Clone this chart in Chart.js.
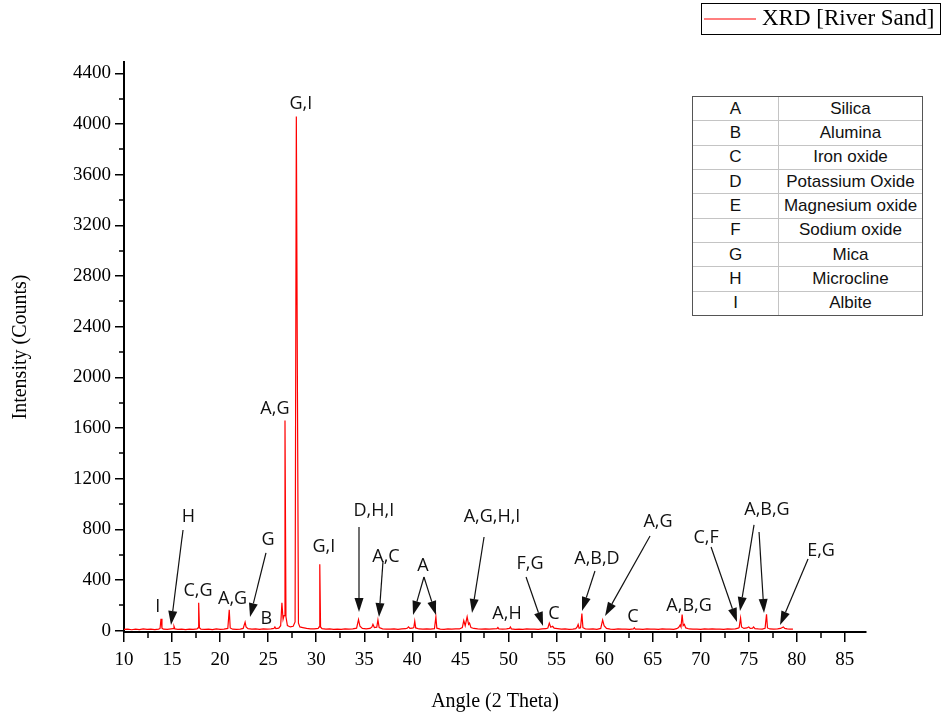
<!DOCTYPE html>
<html>
<head>
<meta charset="utf-8">
<title>XRD River Sand</title>
<script src="https://cdn.jsdelivr.net/npm/chart.js@4.4.1/dist/chart.umd.min.js"></script>
<style>
  html, body { margin: 0; padding: 0; background: #fff; }
  #wrap { position: relative; width: 947px; height: 719px; }
  #xrd { position: absolute; left: 0; top: 0; }
  #phaseBox {
    position: absolute; left: 692px; top: 96px; width: 229px; height: 218px;
    border: 1px solid #555; background: #fff;
  }
  #phaseBox table { width: 100%; height: 100%; border-collapse: collapse; }
  #phaseBox td {
    padding: 0; text-align: center; border: 1px solid #c4c4c4;
    font: 17px "Liberation Sans", Arial, sans-serif; color: #111;
  }
  #phaseBox td:first-child { width: 85px; border-left: none; }
  #phaseBox td:last-child { border-right: none; }
  #phaseBox tr:first-child td { border-top: none; }
  #phaseBox tr:last-child td { border-bottom: none; }
</style>
</head>
<body>
<div id="wrap">
  <canvas id="xrd" width="947" height="719"></canvas>
  <div id="phaseBox"><table id="phases"></table></div>
</div>
<script>
// 2-theta scan of the river sand sample: [angle, counts]
const scan = [
  [10.0, 10], [10.4, 13], [10.8, 8], [11.2, 12], [11.6, 9], [12.0, 14], [12.4, 10], [12.8, 12],
  [13.2, 9], [13.6, 13], [13.75, 18], [13.85, 95], [13.95, 20], [14.1, 12], [14.5, 10], [14.9, 14],
  [15.1, 16], [15.2, 35], [15.3, 14], [15.6, 11], [16.0, 12], [16.4, 9], [16.8, 13], [17.2, 11],
  [17.6, 14], [17.7, 22], [17.77, 220], [17.85, 24], [18.0, 13], [18.4, 10], [18.8, 12], [19.2, 9],
  [19.6, 14], [20.0, 11], [20.4, 13], [20.8, 18], [20.95, 165], [21.05, 22], [21.3, 12], [21.7, 10],
  [22.1, 13], [22.4, 18], [22.6, 68], [22.7, 30], [22.9, 16], [23.3, 12], [23.7, 14], [24.1, 11],
  [24.5, 15], [24.9, 12], [25.3, 14], [25.6, 18], [25.7, 30], [25.8, 16], [26.1, 20], [26.3, 40],
  [26.43, 220], [26.55, 90], [26.65, 120], [26.75, 1660], [26.85, 110], [27.0, 40], [27.3, 30],
  [27.6, 35], [27.8, 70], [27.93, 4060], [28.05, 1820], [28.15, 60], [28.3, 30], [28.6, 25],
  [29.0, 18], [29.4, 15], [29.8, 14], [30.2, 18], [30.3, 30], [30.37, 525], [30.45, 30], [30.6, 16],
  [31.0, 12], [31.4, 14], [31.8, 10], [32.2, 13], [32.6, 11], [33.0, 14], [33.4, 12], [33.8, 15],
  [34.2, 20], [34.4, 88], [34.55, 35], [34.8, 18], [35.2, 14], [35.6, 18], [35.8, 30], [35.9, 50],
  [36.05, 25], [36.3, 28], [36.42, 85], [36.55, 25], [36.9, 15], [37.3, 13], [37.7, 12], [38.1, 14],
  [38.5, 11], [38.9, 14], [39.3, 16], [39.5, 22], [39.6, 30], [39.75, 18], [40.0, 20], [40.15, 25],
  [40.25, 75], [40.35, 22], [40.7, 14], [41.1, 12], [41.5, 15], [41.9, 12], [42.3, 16], [42.45, 110],
  [42.55, 20], [42.9, 13], [43.3, 11], [43.7, 14], [44.1, 12], [44.5, 15], [44.9, 14], [45.2, 25],
  [45.35, 80], [45.5, 40], [45.7, 110], [45.85, 50], [45.95, 60], [46.1, 25], [46.4, 18], [46.8, 14],
  [47.2, 12], [47.6, 15], [48.0, 12], [48.4, 14], [48.8, 16], [48.9, 25], [49.0, 14], [49.4, 12],
  [49.8, 14], [50.1, 18], [50.2, 30], [50.3, 15], [50.7, 11], [51.1, 13], [51.5, 10], [51.9, 14],
  [52.3, 12], [52.7, 13], [53.1, 11], [53.5, 14], [53.9, 16], [54.1, 22], [54.25, 60], [54.4, 28],
  [54.6, 35], [54.75, 20], [55.1, 16], [55.5, 12], [55.9, 14], [56.3, 11], [56.7, 13], [57.0, 16],
  [57.15, 30], [57.25, 50], [57.35, 20], [57.5, 24], [57.64, 135], [57.75, 24], [58.0, 15], [58.4, 12],
  [58.8, 14], [59.2, 11], [59.6, 18], [59.8, 85], [59.95, 40], [60.2, 18], [60.6, 13], [61.0, 11],
  [61.4, 14], [61.8, 12], [62.2, 13], [62.6, 11], [63.0, 14], [63.1, 24], [63.2, 12], [63.6, 13],
  [64.0, 11], [64.4, 14], [64.8, 12], [65.2, 13], [65.6, 10], [66.0, 14], [66.4, 12], [66.8, 13],
  [67.2, 11], [67.5, 16], [67.7, 25], [67.86, 45], [67.95, 30], [68.07, 128], [68.18, 40], [68.3, 50],
  [68.45, 22], [68.8, 14], [69.2, 12], [69.6, 13], [70.0, 11], [70.4, 14], [70.8, 12], [71.2, 15],
  [71.6, 12], [72.0, 13], [72.4, 11], [72.8, 14], [73.2, 12], [73.6, 15], [73.9, 20], [74.0, 25],
  [74.15, 100], [74.25, 30], [74.5, 18], [74.8, 22], [75.0, 30], [75.15, 18], [75.4, 20], [75.5, 30],
  [75.65, 16], [76.0, 14], [76.4, 13], [76.7, 20], [76.85, 130], [76.95, 22], [77.2, 14], [77.6, 12],
  [78.0, 15], [78.3, 18], [78.6, 30], [78.75, 18], [79.0, 14], [79.3, 12], [79.6, 13]
];

const xTicks = [10, 15, 20, 25, 30, 35, 40, 45, 50, 55, 60, 65, 70, 75, 80, 85];
const yTicks = [0, 400, 800, 1200, 1600, 2000, 2400, 2800, 3200, 3600, 4000, 4400];

const phaseCodes = ['A', 'B', 'C', 'D', 'E', 'F', 'G', 'H', 'I'];
const phaseNames = ['Silica', 'Alumina', 'Iron oxide', 'Potassium Oxide', 'Magnesium oxide',
  'Sodium oxide', 'Mica', 'Microcline', 'Albite'];

// peak labels: text centre and arrows [fromX, fromY, toX, toY], all in data units
const peakLabels = [
  { text: 'I', at: [13.5, 195], arrows: [] },
  { text: 'H', at: [16.7, 905], arrows: [[16.14, 795, 14.89, 45]] },
  { text: 'C,G', at: [17.7, 320], arrows: [] },
  { text: 'A,G', at: [21.3, 258], arrows: [] },
  { text: 'G', at: [24.98, 724], arrows: [[24.77, 614, 23.11, 108]] },
  { text: 'B', at: [24.8, 100], arrows: [] },
  { text: 'A,G', at: [25.7, 1758], arrows: [] },
  { text: 'G,I', at: [28.4, 4166], arrows: [] },
  { text: 'G,I', at: [30.8, 669], arrows: [] },
  { text: 'D,H,I', at: [36.0, 953], arrows: [[34.45, 819, 34.45, 148]] },
  { text: 'A,C', at: [37.26, 590], arrows: [[36.95, 550, 36.53, 108]] },
  { text: 'A', at: [41.11, 519], arrows: [[41.21, 424, 40.07, 124], [41.21, 424, 42.46, 124]] },
  { text: 'A,G,H,I', at: [48.29, 906], arrows: [[47.46, 740, 46.21, 140]] },
  { text: 'A,H', at: [49.85, 140], arrows: [] },
  { text: 'F,G', at: [52.24, 535], arrows: [[51.83, 424, 53.6, 37]] },
  { text: 'C', at: [54.74, 140], arrows: [] },
  { text: 'A,B,D', at: [59.21, 574], arrows: [[59.0, 472, 57.65, 156]] },
  { text: 'A,G', at: [65.56, 866], arrows: [[64.73, 748, 60.05, 116]] },
  { text: 'C', at: [62.96, 116], arrows: [] },
  { text: 'A,B,G', at: [68.79, 203], arrows: [] },
  { text: 'C,F', at: [70.56, 740], arrows: [[71.08, 661, 73.78, 69]] },
  { text: 'A,B,G', at: [76.9, 961], arrows: [[75.55, 835, 74.09, 156], [76.07, 779, 76.59, 140]] },
  { text: 'E,G', at: [82.52, 637], arrows: [[81.17, 566, 78.26, 45]] }
];

const lineColor = '#ff0000';

// phase key table
const table = document.getElementById('phases');
phaseCodes.forEach((code, i) => {
  const row = table.insertRow();
  row.insertCell().textContent = code;
  row.insertCell().textContent = phaseNames[i];
});

const serif = '"Liberation Serif", "Times New Roman", serif';

function drawArrow(ctx, x0, y0, x1, y1) {
  const ang = Math.atan2(y1 - y0, x1 - x0);
  const len = 14, half = 4.5;
  const bx = x1 - len * Math.cos(ang), by = y1 - len * Math.sin(ang);
  ctx.beginPath();
  ctx.moveTo(x0, y0);
  ctx.lineTo(bx, by);
  ctx.stroke();
  ctx.beginPath();
  ctx.moveTo(x1, y1);
  ctx.lineTo(bx + half * Math.sin(ang), by - half * Math.cos(ang));
  ctx.lineTo(bx - half * Math.sin(ang), by + half * Math.cos(ang));
  ctx.closePath();
  ctx.fill();
}

const decorations = {
  id: 'xrdDecorations',
  afterDraw(chart) {
    const { ctx, chartArea: area, scales: { x, y } } = chart;
    ctx.save();

    // minor ticks
    ctx.strokeStyle = '#000';
    ctx.lineWidth = 1.5;
    ctx.beginPath();
    for (let v = 12.5; v < x.max; v += 5) {
      const px = Math.round(x.getPixelForValue(v));
      ctx.moveTo(px, area.bottom);
      ctx.lineTo(px, area.bottom + 6);
    }
    for (let v = 200; v < y.max; v += 400) {
      const py = Math.round(y.getPixelForValue(v));
      ctx.moveTo(area.left, py);
      ctx.lineTo(area.left - 5, py);
    }
    ctx.stroke();

    // peak labels and arrows
    ctx.fillStyle = '#111';
    ctx.strokeStyle = '#111';
    ctx.lineWidth = 1.2;
    ctx.font = '18px "Open Sans", "Noto Sans", sans-serif';
    ctx.textAlign = 'center';
    ctx.textBaseline = 'alphabetic';
    peakLabels.forEach(lbl => {
      ctx.fillText(lbl.text, x.getPixelForValue(lbl.at[0]), y.getPixelForValue(lbl.at[1]) + 6);
      lbl.arrows.forEach(a => {
        drawArrow(ctx, x.getPixelForValue(a[0]), y.getPixelForValue(a[1]),
          x.getPixelForValue(a[2]), y.getPixelForValue(a[3]));
      });
    });

    // legend box
    const ds = chart.data.datasets[0];
    ctx.lineWidth = 1;
    ctx.strokeStyle = '#000';
    ctx.strokeRect(701.5, 3.5, 239, 31);
    ctx.strokeStyle = lineColor;
    ctx.lineWidth = 1.2;
    ctx.beginPath();
    ctx.moveTo(704, 19);
    ctx.lineTo(756, 19);
    ctx.stroke();
    ctx.fillStyle = '#000';
    ctx.font = '23px ' + serif;
    ctx.textAlign = 'left';
    ctx.textBaseline = 'middle';
    ctx.fillText(ds.label, 762, 19);

    ctx.restore();
  }
};

new Chart(document.getElementById('xrd'), {
  type: 'line',
  data: {
    datasets: [{
      label: 'XRD [River Sand]',
      data: scan.map(([a, c]) => ({ x: a, y: c })),
      borderColor: lineColor,
      borderWidth: 1.2,
      pointRadius: 0,
      tension: 0,
      fill: false
    }]
  },
  options: {
    responsive: false,
    animation: false,
    devicePixelRatio: 1,
    layout: { padding: { left: 0, right: 81, top: 62, bottom: 0 } },
    plugins: { legend: { display: false }, tooltip: { enabled: false } },
    scales: {
      x: {
        type: 'linear',
        min: 10,
        max: 87.2,
        afterBuildTicks: s => { s.ticks = xTicks.map(v => ({ value: v })); },
        afterFit: s => { s.height = 87; },
        grid: { drawOnChartArea: false, drawTicks: true, tickLength: 10, color: '#000', lineWidth: 1.5 },
        border: { display: true, color: '#000', width: 2 },
        ticks: { color: '#000', font: { family: serif, size: 19 }, padding: 7, maxRotation: 0,
          callback: v => String(v) },
        title: { display: true, text: 'Angle (2 Theta)', color: '#000',
          font: { family: serif, size: 20 }, padding: { top: 0, bottom: 5 } }
      },
      y: {
        type: 'linear',
        min: -10,
        max: 4490,
        afterBuildTicks: s => { s.ticks = yTicks.map(v => ({ value: v })); },
        afterFit: s => { s.width = 124; },
        grid: { drawOnChartArea: false, drawTicks: true, tickLength: 9, color: '#000', lineWidth: 1.5 },
        border: { display: true, color: '#000', width: 2 },
        ticks: { color: '#000', font: { family: serif, size: 19 }, padding: 4,
          callback: v => String(v) },
        title: { display: true, text: 'Intensity (Counts)', color: '#000',
          font: { family: serif, size: 20 }, padding: { top: 9, bottom: 0 } }
      }
    }
  },
  plugins: [decorations]
});
</script>
</body>
</html>
